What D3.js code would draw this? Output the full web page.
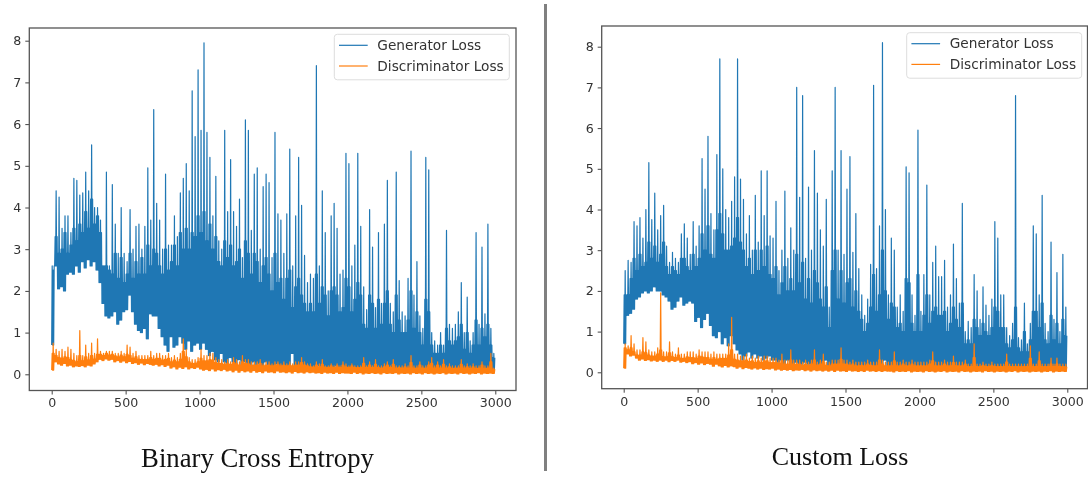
<!DOCTYPE html>
<html>
<head>
<meta charset="utf-8">
<script src="https://cdn.jsdelivr.net/npm/d3@7"></script>
<style>
    body { margin: 0; background: #fff; }
    svg { display: block; filter: blur(0.35px); }
    .tick text, .legend-label { font-family: "DejaVu Sans", sans-serif; fill: #333; }
    .caption { font-family: "Liberation Serif", serif; fill: #111; text-anchor: middle; }
</style>
</head>
<body>
<div id="chart"></div>
<script>
// Three readings per 20 epochs:
// low edge, top of the solid band (body) and the spike (high)
const epochs = d3.range(0, 3000, 20);
const xTicks = [0, 500, 1000, 1500, 2000, 2500, 3000];
const yTicks = [0, 1, 2, 3, 4, 5, 6, 7, 8];
const seriesNames = ["Generator Loss", "Discriminator Loss"];

const bceGenHigh = [
    2.5, 4.4, 4.25, 3.5, 3.8, 3.8, 3.4, 4.7, 4.65, 4.3,
    4.35, 4.85, 4.4, 5.5, 4.0, 4.0, 3.7, 2.6, 4.85, 2.6,
    4.55, 3.6, 2.9, 4.0, 2.9, 2.7, 3.95, 3.0, 3.55, 3.6,
    3.0, 3.55, 4.95, 3.7, 6.35, 4.1, 3.7, 3.0, 4.8, 3.1,
    3.1, 3.8, 3.3, 4.35, 4.7, 5.05, 4.4, 6.8, 5.7, 7.3,
    5.85, 7.95, 5.8, 5.2, 3.8, 4.75, 3.2, 3.0, 5.85, 3.9,
    5.15, 3.9, 3.55, 4.2, 2.8, 6.1, 5.85, 3.45, 4.8, 4.95,
    3.0, 4.5, 4.8, 4.6, 2.8, 5.8, 3.85, 3.7, 2.9, 3.85,
    5.4, 2.6, 3.8, 5.2, 4.05, 2.85, 2.2, 2.4, 2.3, 7.4,
    2.6, 4.4, 3.4, 2.0, 3.8, 4.1, 3.5, 2.4, 2.5, 5.3,
    5.05, 2.6, 3.1, 5.3, 3.55, 2.1, 1.55, 3.95, 3.05, 1.6,
    3.4, 1.7, 3.6, 4.65, 1.7, 1.5, 4.85, 2.25, 1.5, 1.4,
    2.3, 5.35, 1.9, 2.7, 1.4, 1.1, 5.2, 4.9, 1.0, 0.8,
    0.7, 1.0, 0.7, 3.45, 1.2, 1.1, 1.2, 1.5, 2.2, 1.0,
    1.85, 0.8, 1.0, 3.4, 1.2, 3.05, 1.45, 3.6, 1.1, 0.5
];
const bceGenBody = [
    2.6, 3.3, 2.9, 3.0, 3.4, 2.9, 3.1, 3.5, 3.2, 3.6,
    3.4, 3.9, 3.5, 4.2, 3.6, 3.8, 3.4, 2.6, 2.6, 2.5,
    2.4, 2.9, 2.3, 2.8, 2.2, 2.4, 2.9, 2.3, 2.7, 2.4,
    2.8, 2.4, 3.1, 2.6, 3.0, 2.9, 2.6, 2.4, 3.0, 2.5,
    2.7, 3.1, 2.6, 3.4, 3.0, 3.5, 3.0, 3.4, 3.3, 3.8,
    3.4, 3.9, 3.2, 3.6, 3.0, 3.3, 2.7, 2.6, 3.2, 2.8,
    3.1, 2.6, 2.7, 3.0, 2.3, 3.2, 2.9, 2.4, 2.9, 2.7,
    2.2, 2.6, 2.8, 2.4, 2.0, 2.9, 2.2, 2.3, 1.8, 2.3,
    2.5, 1.6, 2.1, 2.3, 1.9, 1.7, 1.5, 1.7, 1.5, 2.4,
    1.7, 2.1, 1.9, 1.4, 2.0, 2.1, 1.9, 1.5, 1.6, 2.3,
    2.1, 1.5, 1.8, 2.2, 1.9, 1.2, 1.1, 1.9, 1.7, 1.1,
    1.8, 1.2, 1.7, 2.0, 1.2, 1.0, 1.9, 1.3, 1.0, 1.0,
    1.3, 2.0, 1.1, 1.5, 1.0, 0.7, 1.8, 1.5, 0.7, 0.5,
    0.5, 0.7, 0.5, 1.1, 0.8, 0.7, 0.8, 0.9, 1.2, 0.6,
    1.0, 0.5, 0.7, 1.3, 0.7, 1.1, 0.9, 1.2, 0.7, 0.4
];
const bceGenLow = [
    0.7, 2.6, 2.05, 2.1, 2.0, 2.4, 2.45, 2.4, 2.6, 2.45,
    2.7, 2.55, 2.75, 2.6, 2.7, 2.5, 2.2, 1.7, 1.4, 1.35,
    1.4, 1.5, 1.2, 1.3, 1.5, 1.55, 1.9, 1.5, 1.2, 1.05,
    1.0, 1.1, 0.85, 1.45, 1.4, 1.4, 1.1, 0.9, 0.7, 0.55,
    0.9, 0.65, 0.7, 0.9, 0.75, 0.6, 0.8, 0.55, 0.7, 0.75,
    0.6, 0.75, 0.6, 0.45, 0.55, 0.35, 0.3, 0.5, 0.3, 0.25,
    0.4, 0.3, 0.25, 0.35, 0.2, 0.3, 0.25, 0.2, 0.3, 0.2,
    0.25, 0.2, 0.3, 0.2, 0.15, 0.2, 0.25, 0.15, 0.2, 0.15,
    0.2, 0.5, 0.15, 0.2, 0.15, 0.1, 0.2, 0.15, 0.1, 0.15,
    0.2, 0.1, 0.15, 0.1, 0.15, 0.1, 0.2, 0.1, 0.15, 0.1,
    0.1, 0.15, 0.1, 0.1, 0.15, 0.1, 0.1, 0.15, 0.1, 0.1,
    0.1, 0.1, 0.15, 0.1, 0.1, 0.1, 0.1, 0.15, 0.1, 0.1,
    0.1, 0.1, 0.1, 0.1, 0.1, 0.1, 0.1, 0.1, 0.1, 0.1,
    0.05, 0.1, 0.05, 0.1, 0.05, 0.1, 0.05, 0.1, 0.05, 0.1,
    0.05, 0.05, 0.1, 0.05, 0.05, 0.1, 0.05, 0.05, 0.1, 0.05
];
const bceDisHigh = [
    0.75, 0.6, 0.55, 0.6, 0.55, 0.65, 0.6, 0.5, 0.45, 1.05,
    0.45, 0.7, 0.5, 0.75, 0.5, 0.85, 0.55, 0.5, 0.55, 0.55,
    0.55, 0.5, 0.5, 0.55, 0.5, 0.7, 0.65, 0.5, 0.55, 0.45,
    0.45, 0.45, 0.45, 0.55, 0.45, 0.5, 0.5, 0.45, 0.45, 0.5,
    0.4, 0.45, 0.4, 0.5, 0.85, 0.6, 0.4, 0.35, 0.35, 0.4,
    0.6, 0.45, 0.45, 0.5, 0.5, 0.4, 0.35, 0.35, 0.3, 0.35,
    0.3, 0.4, 0.35, 0.3, 0.45, 0.35, 0.35, 0.3, 0.3, 0.3,
    0.35, 0.25, 0.3, 0.3, 0.25, 0.3, 0.3, 0.25, 0.3, 0.25,
    0.3, 0.25, 0.3, 0.3, 0.4, 0.3, 0.25, 0.25, 0.2, 0.3,
    0.25, 0.35, 0.2, 0.2, 0.25, 0.2, 0.25, 0.2, 0.3, 0.25,
    0.2, 0.25, 0.2, 0.2, 0.2, 0.4, 0.2, 0.3, 0.2, 0.35,
    0.2, 0.2, 0.25, 0.3, 0.2, 0.35, 0.2, 0.2, 0.2, 0.25,
    0.2, 0.45, 0.2, 0.2, 0.3, 0.2, 0.2, 0.3, 0.4, 0.2,
    0.3, 0.2, 0.35, 0.2, 0.25, 0.2, 0.2, 0.2, 0.35, 0.2,
    0.25, 0.2, 0.25, 0.2, 0.2, 0.3, 0.2, 0.2, 0.5, 0.15
];
const bceDisBody = [
    0.5, 0.45, 0.4, 0.38, 0.42, 0.4, 0.35, 0.33, 0.3, 0.45,
    0.32, 0.42, 0.34, 0.45, 0.36, 0.48, 0.48, 0.45, 0.5, 0.46,
    0.48, 0.44, 0.42, 0.46, 0.42, 0.48, 0.45, 0.38, 0.42, 0.36,
    0.36, 0.35, 0.36, 0.4, 0.36, 0.38, 0.38, 0.34, 0.36, 0.38,
    0.3, 0.34, 0.3, 0.36, 0.55, 0.42, 0.3, 0.26, 0.26, 0.3,
    0.38, 0.32, 0.32, 0.35, 0.34, 0.28, 0.26, 0.26, 0.24, 0.26,
    0.24, 0.28, 0.25, 0.22, 0.3, 0.26, 0.25, 0.22, 0.22, 0.22,
    0.26, 0.2, 0.22, 0.22, 0.2, 0.22, 0.24, 0.2, 0.22, 0.2,
    0.22, 0.2, 0.22, 0.22, 0.28, 0.22, 0.2, 0.18, 0.17, 0.22,
    0.18, 0.24, 0.17, 0.16, 0.2, 0.16, 0.2, 0.16, 0.22, 0.18,
    0.16, 0.2, 0.16, 0.16, 0.16, 0.26, 0.16, 0.22, 0.16, 0.24,
    0.16, 0.15, 0.18, 0.22, 0.16, 0.24, 0.15, 0.16, 0.15, 0.18,
    0.15, 0.28, 0.15, 0.15, 0.22, 0.15, 0.15, 0.22, 0.26, 0.15,
    0.22, 0.15, 0.24, 0.15, 0.18, 0.14, 0.15, 0.15, 0.24, 0.15,
    0.18, 0.14, 0.18, 0.14, 0.15, 0.22, 0.14, 0.15, 0.3, 0.12
];
const bceDisLow = [
    0.1, 0.3, 0.25, 0.22, 0.26, 0.2, 0.22, 0.18, 0.2, 0.19,
    0.21, 0.18, 0.22, 0.2, 0.25, 0.3, 0.36, 0.33, 0.37, 0.34,
    0.36, 0.3, 0.33, 0.29, 0.32, 0.28, 0.31, 0.26, 0.28, 0.24,
    0.27, 0.23, 0.26, 0.24, 0.22, 0.24, 0.2, 0.23, 0.19, 0.22,
    0.15, 0.18, 0.13, 0.17, 0.14, 0.18, 0.13, 0.16, 0.14, 0.17,
    0.13, 0.1, 0.12, 0.09, 0.13, 0.08, 0.11, 0.09, 0.12, 0.08,
    0.1, 0.06, 0.1, 0.05, 0.09, 0.06, 0.08, 0.05, 0.09, 0.05,
    0.07, 0.04, 0.08, 0.05, 0.06, 0.04, 0.08, 0.05, 0.06, 0.04,
    0.06, 0.03, 0.07, 0.04, 0.05, 0.03, 0.06, 0.04, 0.05, 0.03,
    0.04, 0.02, 0.05, 0.03, 0.04, 0.02, 0.05, 0.02, 0.04, 0.03,
    0.03, 0.02, 0.05, 0.02, 0.04, 0.01, 0.03, 0.02, 0.04, 0.02,
    0.03, 0.01, 0.04, 0.02, 0.03, 0.02, 0.04, 0.01, 0.03, 0.02,
    0.03, 0.01, 0.04, 0.02, 0.03, 0.01, 0.04, 0.02, 0.03, 0.01,
    0.03, 0.02, 0.04, 0.01, 0.03, 0.02, 0.03, 0.01, 0.04, 0.02,
    0.03, 0.01, 0.03, 0.02, 0.04, 0.01, 0.03, 0.02, 0.03, 0.02
];

const customGenHigh = [
    2.5, 2.75, 2.7, 3.7, 3.6, 3.8, 3.3, 4.0, 5.15, 3.75,
    4.4, 3.5, 3.85, 4.1, 3.1, 2.7, 2.95, 2.8, 2.7, 3.4,
    3.65, 3.3, 2.9, 3.7, 3.1, 3.6, 5.25, 4.5, 5.8, 3.9,
    3.5, 5.35, 7.7, 5.0, 4.0, 3.8, 4.2, 4.8, 7.7, 4.75,
    4.25, 3.4, 3.85, 3.0, 4.35, 3.2, 4.95, 3.85, 4.95, 3.35,
    3.3, 4.2, 2.5, 3.0, 4.45, 2.8, 3.55, 3.0, 7.0, 4.3,
    6.8, 2.8, 4.55, 3.0, 5.45, 4.4, 3.5, 3.1, 4.25, 1.6,
    4.95, 7.0, 3.0, 5.45, 2.9, 4.5, 5.3, 2.95, 3.9, 2.55,
    1.9, 1.4, 1.8, 2.65, 7.05, 2.55, 3.6, 8.1, 4.0, 1.9,
    3.3, 3.0, 1.6, 1.9, 1.5, 5.05, 4.9, 1.9, 1.4, 5.95,
    1.5, 2.4, 4.6, 1.9, 2.7, 3.1, 2.35, 2.35, 2.75, 1.6,
    1.9, 3.15, 2.3, 1.7, 4.15, 1.0, 1.25, 1.1, 2.4, 2.0,
    1.3, 2.1, 1.65, 1.4, 1.8, 3.7, 3.3, 1.9, 1.9, 1.1,
    0.9, 1.2, 6.8, 0.85, 0.8, 1.7, 0.7, 1.2, 3.6, 3.4,
    1.9, 4.35, 1.2, 1.0, 3.2, 1.3, 2.45, 1.0, 2.9, 1.6
];
const customGenBody = [
    1.9, 1.9, 2.3, 2.8, 2.5, 2.9, 2.6, 2.7, 3.2, 2.8,
    3.1, 2.7, 2.9, 3.2, 2.6, 2.4, 2.6, 2.5, 2.4, 2.8,
    2.8, 2.6, 2.5, 2.9, 2.6, 2.8, 3.4, 3.0, 3.6, 2.9,
    2.8, 3.5, 3.9, 3.4, 3.0, 3.0, 3.1, 3.3, 3.8, 3.2,
    3.0, 2.6, 2.8, 2.4, 3.0, 2.5, 3.0, 2.6, 3.1, 2.4,
    2.3, 2.6, 1.9, 2.2, 2.6, 2.0, 2.3, 2.0, 2.9, 2.2,
    2.7, 1.8, 2.3, 1.7, 2.5, 2.2, 1.8, 1.6, 2.1, 1.1,
    2.5, 3.0, 1.8, 2.5, 1.7, 2.2, 2.3, 1.6, 2.0, 1.5,
    1.3, 1.0, 1.2, 1.6, 2.4, 1.5, 1.9, 3.0, 2.0, 1.3,
    1.7, 1.6, 1.1, 1.2, 1.0, 2.3, 2.2, 1.2, 1.0, 2.4,
    1.0, 1.4, 1.9, 1.2, 1.5, 1.6, 1.4, 1.4, 1.5, 1.0,
    1.2, 1.6, 1.3, 1.1, 1.7, 0.7, 0.8, 0.7, 1.3, 1.1,
    0.9, 1.2, 1.0, 0.9, 1.1, 1.6, 1.5, 1.1, 1.1, 0.7,
    0.6, 0.8, 1.6, 0.6, 0.5, 1.0, 0.5, 0.8, 1.5, 1.5,
    1.1, 1.7, 0.8, 0.7, 1.4, 0.8, 1.2, 0.7, 1.3, 0.9
];
const customGenLow = [
    0.7, 1.4, 1.45, 1.55, 1.8, 1.85, 1.95, 2.0, 1.95, 2.0,
    2.1, 2.0, 2.0, 1.9, 1.85, 1.75, 1.55, 1.6, 1.75, 1.85,
    1.65, 1.7, 1.75, 1.7, 1.25, 1.35, 1.1, 1.3, 1.45, 1.15,
    0.9, 0.85, 1.0, 0.7, 0.85, 0.65, 0.9, 0.7, 0.55, 0.45,
    0.3, 0.4, 0.5, 0.35, 0.45, 0.35, 0.4, 0.3, 0.35, 0.4,
    0.3, 0.3, 0.25, 0.3, 0.2, 0.3, 0.25, 0.2, 0.25, 0.2,
    0.2, 0.25, 0.2, 0.2, 0.2, 0.15, 0.2, 0.15, 0.3, 0.15,
    0.15, 0.2, 0.15, 0.15, 0.2, 0.15, 0.15, 0.1, 0.15, 0.1,
    0.15, 0.1, 0.15, 0.1, 0.1, 0.15, 0.1, 0.1, 0.3, 0.15,
    0.1, 0.1, 0.15, 0.1, 0.1, 0.1, 0.15, 0.1, 0.1, 0.1,
    0.1, 0.15, 0.1, 0.1, 0.1, 0.1, 0.1, 0.1, 0.15, 0.1,
    0.1, 0.1, 0.1, 0.1, 0.1, 0.1, 0.1, 0.1, 0.1, 0.1,
    0.1, 0.1, 0.1, 0.05, 0.1, 0.05, 0.1, 0.05, 0.1, 0.05,
    0.1, 0.05, 0.1, 0.05, 0.1, 0.05, 0.1, 0.05, 0.1, 0.05,
    0.05, 0.1, 0.05, 0.05, 0.1, 0.05, 0.05, 0.1, 0.05, 0.05
];
const customDisHigh = [
    0.7, 0.65, 0.9, 0.7, 0.55, 0.55, 0.85, 0.75, 0.55, 0.5,
    0.5, 0.6, 1.95, 0.5, 0.5, 0.75, 0.5, 0.45, 0.6, 0.45,
    0.45, 0.5, 0.5, 0.5, 0.45, 0.55, 0.5, 0.5, 0.5, 0.45,
    0.5, 0.45, 0.45, 0.45, 0.45, 0.7, 1.35, 0.45, 0.45, 0.4,
    0.4, 0.45, 0.35, 0.4, 0.35, 0.4, 0.35, 0.4, 0.4, 0.35,
    0.35, 0.35, 0.3, 0.45, 0.3, 0.3, 0.55, 0.3, 0.3, 0.3,
    0.25, 0.3, 0.25, 0.3, 0.55, 0.25, 0.3, 0.45, 0.25, 0.25,
    0.3, 0.3, 0.3, 0.6, 0.3, 0.3, 0.25, 0.3, 0.25, 0.25,
    0.25, 0.25, 0.3, 0.25, 0.25, 0.25, 0.55, 0.3, 0.25, 0.25,
    0.25, 0.5, 0.25, 0.25, 0.3, 0.25, 0.25, 0.3, 0.25, 0.25,
    0.25, 0.25, 0.25, 0.3, 0.5, 0.25, 0.25, 0.25, 0.3, 0.25,
    0.25, 0.4, 0.25, 0.25, 0.25, 0.3, 0.2, 0.2, 0.7, 0.2,
    0.2, 0.25, 0.2, 0.2, 0.25, 0.2, 0.2, 0.2, 0.2, 0.45,
    0.2, 0.2, 0.2, 0.2, 0.2, 0.2, 0.2, 0.65, 0.2, 0.2,
    0.5, 0.2, 0.2, 0.2, 0.35, 0.2, 0.35, 0.2, 0.2, 0.2
];
const customDisBody = [
    0.6, 0.55, 0.6, 0.5, 0.42, 0.42, 0.5, 0.48, 0.42, 0.4,
    0.4, 0.45, 0.55, 0.38, 0.38, 0.48, 0.38, 0.36, 0.42, 0.34,
    0.34, 0.38, 0.36, 0.36, 0.34, 0.4, 0.38, 0.36, 0.36, 0.32,
    0.36, 0.32, 0.34, 0.34, 0.34, 0.42, 0.55, 0.32, 0.3, 0.28,
    0.28, 0.3, 0.26, 0.28, 0.24, 0.28, 0.24, 0.28, 0.28, 0.24,
    0.24, 0.25, 0.22, 0.28, 0.2, 0.2, 0.3, 0.2, 0.2, 0.2,
    0.17, 0.2, 0.17, 0.2, 0.3, 0.17, 0.2, 0.26, 0.17, 0.16,
    0.2, 0.2, 0.2, 0.32, 0.2, 0.2, 0.17, 0.2, 0.16, 0.16,
    0.17, 0.16, 0.2, 0.17, 0.16, 0.16, 0.3, 0.2, 0.16, 0.16,
    0.16, 0.28, 0.16, 0.16, 0.2, 0.16, 0.16, 0.2, 0.16, 0.16,
    0.16, 0.16, 0.16, 0.2, 0.28, 0.16, 0.16, 0.16, 0.2, 0.16,
    0.16, 0.24, 0.16, 0.16, 0.16, 0.2, 0.14, 0.14, 0.36, 0.14,
    0.14, 0.17, 0.14, 0.14, 0.17, 0.14, 0.14, 0.14, 0.14, 0.25,
    0.14, 0.14, 0.14, 0.14, 0.14, 0.14, 0.14, 0.34, 0.14, 0.14,
    0.28, 0.14, 0.14, 0.14, 0.2, 0.14, 0.2, 0.14, 0.14, 0.14
];
const customDisLow = [
    0.1, 0.45, 0.4, 0.42, 0.35, 0.3, 0.33, 0.29, 0.31, 0.28,
    0.3, 0.27, 0.3, 0.27, 0.3, 0.26, 0.29, 0.27, 0.3, 0.25,
    0.27, 0.24, 0.26, 0.21, 0.24, 0.2, 0.23, 0.19, 0.22, 0.2,
    0.15, 0.2, 0.16, 0.13, 0.17, 0.13, 0.16, 0.14, 0.1, 0.13,
    0.09, 0.12, 0.1, 0.08, 0.11, 0.08, 0.1, 0.07, 0.09, 0.08,
    0.1, 0.06, 0.08, 0.05, 0.07, 0.05, 0.07, 0.04, 0.06, 0.05,
    0.07, 0.04, 0.06, 0.03, 0.06, 0.04, 0.05, 0.03, 0.05, 0.03,
    0.05, 0.02, 0.05, 0.03, 0.04, 0.02, 0.05, 0.03, 0.04, 0.02,
    0.04, 0.02, 0.05, 0.03, 0.04, 0.02, 0.04, 0.02, 0.04, 0.03,
    0.03, 0.01, 0.04, 0.02, 0.03, 0.02, 0.04, 0.01, 0.03, 0.02,
    0.03, 0.01, 0.04, 0.02, 0.03, 0.01, 0.03, 0.02, 0.04, 0.01,
    0.03, 0.02, 0.03, 0.01, 0.04, 0.02, 0.03, 0.01, 0.03, 0.02,
    0.03, 0.01, 0.04, 0.02, 0.03, 0.01, 0.03, 0.02, 0.03, 0.01,
    0.03, 0.02, 0.04, 0.01, 0.03, 0.02, 0.03, 0.01, 0.03, 0.02,
    0.03, 0.01, 0.03, 0.02, 0.04, 0.01, 0.03, 0.02, 0.03, 0.02
];

const width = 1088;
const height = 477;
const colors = ["#1f77b4", "#ff7f0e"];

const svg = d3.select("#chart").append("svg")
    .attr("width", width)
    .attr("height", height);

// saw-tooth through low, body and high in each bucket, like the raw loss curve
function sawtooth(low, body, high) {
    const points = [];
    epochs.forEach(function(epoch, i) {
        points.push([epoch, low[i]]);
        points.push([epoch + 3.3, body[i]]);
        points.push([epoch + 6.6, low[i]]);
        points.push([epoch + 10, high[i]]);
        points.push([epoch + 13.3, low[i]]);
        points.push([epoch + 16.6, body[i]]);
    });
    return points;
}

function drawPanel(panel) {
    const x = d3.scaleLinear().domain([0, 3000]).range([panel.x0, panel.x3000]);
    const y = d3.scaleLinear().domain([0, 8]).range([panel.y0, panel.y8]);
    const g = svg.append("g");

    const line = d3.line().x(d => x(d[0])).y(d => y(d[1]));
    panel.series.forEach(function(s, i) {
        g.append("path")
            .attr("d", line(sawtooth(s[0], s[1], s[2])))
            .attr("fill", "none")
            .attr("stroke", colors[i])
            .attr("stroke-width", 1.2)
            .attr("stroke-linejoin", "round");
    });

    const xAxis = g.append("g")
        .attr("transform", `translate(0,${panel.bottom})`)
        .call(d3.axisBottom(x).tickValues(xTicks).tickFormat(d3.format("d")).tickSize(4).tickPadding(4));
    const yAxis = g.append("g")
        .attr("transform", `translate(${panel.left},0)`)
        .call(d3.axisLeft(y).tickValues(yTicks).tickSize(4).tickPadding(4));
    [xAxis, yAxis].forEach(function(axis) {
        axis.select(".domain").remove();
        axis.selectAll(".tick line").attr("stroke", "#444");
        axis.selectAll(".tick text").style("font-size", "12.6px");
    });

    g.append("rect")
        .attr("x", panel.left)
        .attr("y", panel.top)
        .attr("width", panel.right - panel.left)
        .attr("height", panel.bottom - panel.top)
        .attr("fill", "none")
        .attr("stroke", "#555")
        .attr("stroke-width", 1.3);

    // legend
    const legend = g.append("g").attr("transform", `translate(${panel.legendX},${panel.legendY})`);
    legend.append("rect")
        .attr("width", 175)
        .attr("height", 45.5)
        .attr("rx", 3)
        .attr("fill", "#fff")
        .attr("fill-opacity", 0.8)
        .attr("stroke", "#ddd");
    seriesNames.forEach(function(name, i) {
        const rowY = 11 + i * 20.7;
        legend.append("line")
            .attr("x1", 4.7).attr("x2", 33.4)
            .attr("y1", rowY).attr("y2", rowY)
            .attr("stroke", colors[i])
            .attr("stroke-width", 1.2);
        legend.append("text")
            .attr("class", "legend-label")
            .attr("x", 43)
            .attr("y", rowY + 4.6)
            .style("font-size", "13.7px")
            .text(name);
    });

    svg.append("text")
        .attr("class", "caption")
        .attr("x", panel.captionX)
        .attr("y", panel.captionY)
        .style("font-size", panel.captionSize + "px")
        .text(panel.caption);
}

drawPanel({
    x0: 51.7, x3000: 495.3, y0: 374.3, y8: 40.7,
    left: 29.3, right: 516, top: 28, bottom: 390.5,
    legendX: 334.3, legendY: 34.3,
    caption: "Binary Cross Entropy", captionX: 257.5, captionY: 467, captionSize: 26.7,
    series: [[bceGenLow, bceGenBody, bceGenHigh], [bceDisLow, bceDisBody, bceDisHigh]]
});
drawPanel({
    x0: 623.7, x3000: 1067.3, y0: 372.3, y8: 46.7,
    left: 601.7, right: 1087.5, top: 26, bottom: 388.7,
    legendX: 906.7, legendY: 32.7,
    caption: "Custom Loss", captionX: 840, captionY: 465, captionSize: 26,
    series: [[customGenLow, customGenBody, customGenHigh], [customDisLow, customDisBody, customDisHigh]]
});

// divider between the two panels
svg.append("line")
    .attr("x1", 545.5).attr("x2", 545.5)
    .attr("y1", 4).attr("y2", 471)
    .attr("stroke", "#808080")
    .attr("stroke-width", 3);
</script>
</body>
</html>
